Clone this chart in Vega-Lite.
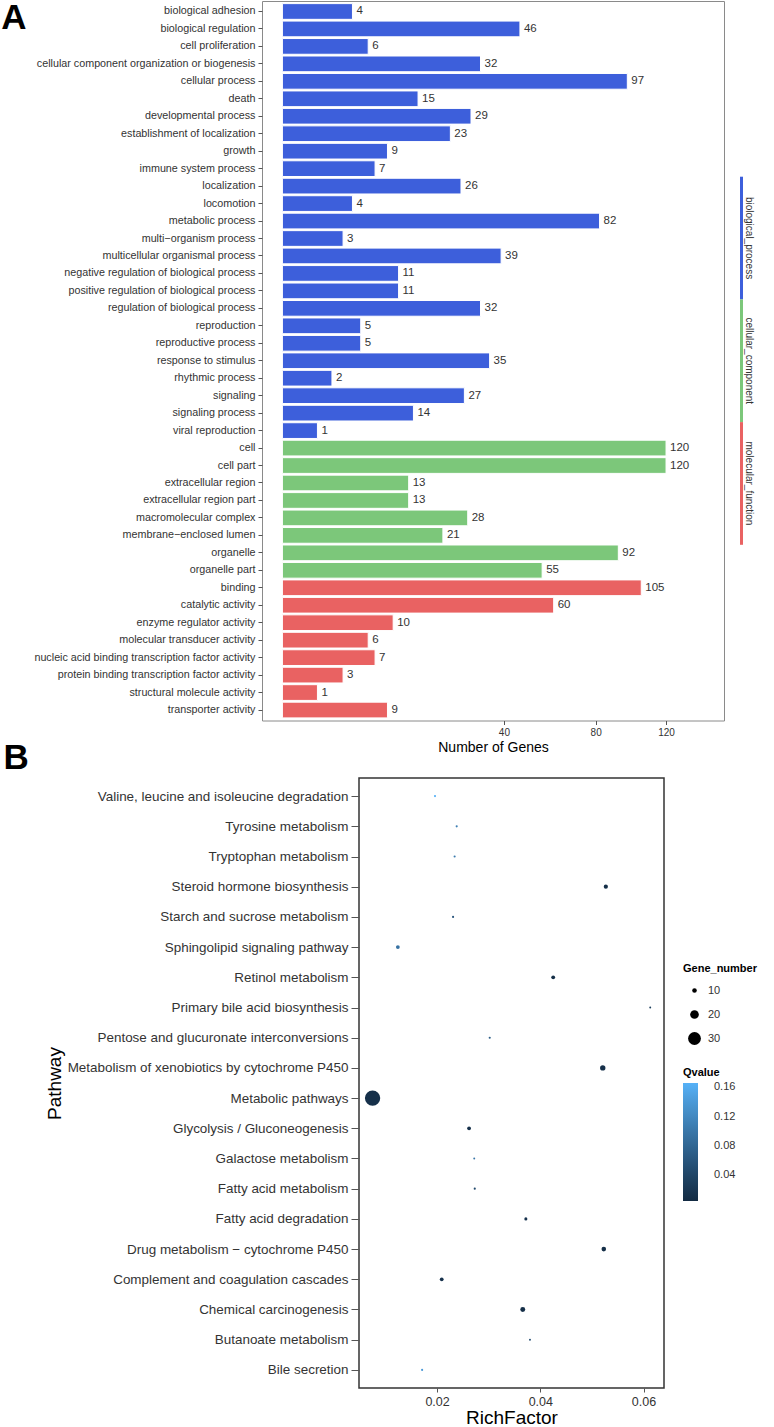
{
  "$schema": "https://vega.github.io/schema/vega-lite/v6.json",
  "padding": {"left": 0, "top": 0, "right": 0, "bottom": 0},
  "background": "white",
  "config": {
    "font": "Liberation Sans",
    "axis": {"labelColor": "#333333", "tickColor": "#555555", "tickSize": 4, "titleFontWeight": "normal", "titleColor": "#000000", "grid": false, "labelLimit": 400, "maxExtent": 400},
    "legend": {"titleFontWeight": "bold", "titleColor": "#000000", "labelColor": "#333333"}
  },
  "spacing": -15,
  "resolve": {"scale": {"color": "independent", "size": "independent"}, "legend": {"color": "independent", "size": "independent"}},
  "vconcat": [
    {
      "spacing": 15,
      "hconcat": [
        {
          "title": {"text": "A", "orient": "left", "anchor": "end", "angle": 0, "align": "right", "baseline": "top", "fontSize": 35, "fontWeight": "bold", "offset": -18, "dy": 0},
          "width": 462,
          "height": 719.5,
          "view": {"stroke": "#8a8a8a", "strokeWidth": 1},
          "data": {"values": [
            {"term": "biological adhesion", "count": 4, "group": "biological_process"},
            {"term": "biological regulation", "count": 46, "group": "biological_process"},
            {"term": "cell proliferation", "count": 6, "group": "biological_process"},
            {"term": "cellular component organization or biogenesis", "count": 32, "group": "biological_process"},
            {"term": "cellular process", "count": 97, "group": "biological_process"},
            {"term": "death", "count": 15, "group": "biological_process"},
            {"term": "developmental process", "count": 29, "group": "biological_process"},
            {"term": "establishment of localization", "count": 23, "group": "biological_process"},
            {"term": "growth", "count": 9, "group": "biological_process"},
            {"term": "immune system process", "count": 7, "group": "biological_process"},
            {"term": "localization", "count": 26, "group": "biological_process"},
            {"term": "locomotion", "count": 4, "group": "biological_process"},
            {"term": "metabolic process", "count": 82, "group": "biological_process"},
            {"term": "multi−organism process", "count": 3, "group": "biological_process"},
            {"term": "multicellular organismal process", "count": 39, "group": "biological_process"},
            {"term": "negative regulation of biological process", "count": 11, "group": "biological_process"},
            {"term": "positive regulation of biological process", "count": 11, "group": "biological_process"},
            {"term": "regulation of biological process", "count": 32, "group": "biological_process"},
            {"term": "reproduction", "count": 5, "group": "biological_process"},
            {"term": "reproductive process", "count": 5, "group": "biological_process"},
            {"term": "response to stimulus", "count": 35, "group": "biological_process"},
            {"term": "rhythmic process", "count": 2, "group": "biological_process"},
            {"term": "signaling", "count": 27, "group": "biological_process"},
            {"term": "signaling process", "count": 14, "group": "biological_process"},
            {"term": "viral reproduction", "count": 1, "group": "biological_process"},
            {"term": "cell", "count": 120, "group": "cellular_component"},
            {"term": "cell part", "count": 120, "group": "cellular_component"},
            {"term": "extracellular region", "count": 13, "group": "cellular_component"},
            {"term": "extracellular region part", "count": 13, "group": "cellular_component"},
            {"term": "macromolecular complex", "count": 28, "group": "cellular_component"},
            {"term": "membrane−enclosed lumen", "count": 21, "group": "cellular_component"},
            {"term": "organelle", "count": 92, "group": "cellular_component"},
            {"term": "organelle part", "count": 55, "group": "cellular_component"},
            {"term": "binding", "count": 105, "group": "molecular_function"},
            {"term": "catalytic activity", "count": 60, "group": "molecular_function"},
            {"term": "enzyme regulator activity", "count": 10, "group": "molecular_function"},
            {"term": "molecular transducer activity", "count": 6, "group": "molecular_function"},
            {"term": "nucleic acid binding transcription factor activity", "count": 7, "group": "molecular_function"},
            {"term": "protein binding transcription factor activity", "count": 3, "group": "molecular_function"},
            {"term": "structural molecule activity", "count": 1, "group": "molecular_function"},
            {"term": "transporter activity", "count": 9, "group": "molecular_function"}
          ]},
          "encoding": {
            "y": {"field": "term", "type": "nominal", "sort": null,
                  "scale": {"paddingInner": 0.1, "paddingOuter": 0.15},
                  "axis": {"title": null, "labelFontSize": 10.75, "domain": false, "labelPadding": 3}},
            "x": {"field": "count", "type": "quantitative",
                  "scale": {"type": "sqrt", "domain": [-0.34, 159], "nice": false, "zero": false},
                  "axis": {"values": [40, 80, 120], "title": "Number of Genes", "titleFontSize": 14, "labelFontSize": 10, "domain": false, "titlePadding": 3, "labelPadding": 3}}
          },
          "layer": [
            {"mark": {"type": "bar", "stroke": "white", "strokeWidth": 1},
             "encoding": {"color": {"field": "group", "type": "nominal",
               "scale": {"domain": ["biological_process", "cellular_component", "molecular_function"], "range": ["#3D5FDB", "#7CC77A", "#E96262"]},
               "legend": null}}},
            {"mark": {"type": "text", "align": "left", "baseline": "middle", "dx": 4, "fontSize": 11.5, "color": "#333333"},
             "encoding": {"text": {"field": "count", "type": "quantitative"}}}
          ]
        },
        {
          "width": 3,
          "height": 719.5,
          "view": {"stroke": null},
          "data": {"values": [
            {"group": "biological_process"},
            {"group": "cellular_component"},
            {"group": "molecular_function"}
          ]},
          "mark": {"type": "bar"},
          "encoding": {
            "y": {"field": "group", "type": "nominal", "sort": null,
                  "scale": {"domain": [" ", "biological_process", "cellular_component", "molecular_function", "  "], "paddingInner": 0, "paddingOuter": 0.432},
                  "axis": {"orient": "right", "values": ["biological_process", "cellular_component", "molecular_function"], "title": null, "ticks": false, "domain": false, "labelAngle": 90, "labelAlign": "center", "labelBaseline": "bottom", "labelPadding": 0, "labelFontSize": 10, "labelColor": "#333333"}},
            "color": {"field": "group", "type": "nominal",
               "scale": {"domain": ["biological_process", "cellular_component", "molecular_function"], "range": ["#3D5FDB", "#7CC77A", "#E96262"]},
               "legend": null}
          }
        }
      ]
    },
    {
      "spacing": 0,
      "bounds": "flush",
      "resolve": {"scale": {"color": "independent", "size": "independent"}, "legend": {"color": "independent", "size": "independent"}},
      "hconcat": [
        {
          "width": 97,
          "height": 10,
          "view": {"stroke": null},
          "data": {"values": [{"k": 0}]},
          "mark": {"type": "point", "opacity": 0},
          "encoding": {}
        },
        {
          "title": {"text": "B", "orient": "left", "anchor": "end", "angle": 0, "align": "right", "baseline": "top", "fontSize": 35, "fontWeight": "bold", "offset": -9, "dy": -37},
          "width": 305,
          "height": 610,
          "view": {"stroke": "#333333", "strokeWidth": 1.5},
          "data": {"values": [
            {"pathway": "Valine, leucine and isoleucine degradation", "RichFactor": 0.0196, "Gene_number": 3, "Qvalue": 0.165},
            {"pathway": "Tyrosine metabolism", "RichFactor": 0.0238, "Gene_number": 3, "Qvalue": 0.11},
            {"pathway": "Tryptophan metabolism", "RichFactor": 0.0234, "Gene_number": 3, "Qvalue": 0.105},
            {"pathway": "Steroid hormone biosynthesis", "RichFactor": 0.0527, "Gene_number": 9, "Qvalue": 0.01},
            {"pathway": "Starch and sucrose metabolism", "RichFactor": 0.0231, "Gene_number": 3, "Qvalue": 0.06},
            {"pathway": "Sphingolipid signaling pathway", "RichFactor": 0.0124, "Gene_number": 8, "Qvalue": 0.095},
            {"pathway": "Retinol metabolism", "RichFactor": 0.0425, "Gene_number": 8, "Qvalue": 0.01},
            {"pathway": "Primary bile acid biosynthesis", "RichFactor": 0.0613, "Gene_number": 2, "Qvalue": 0.03},
            {"pathway": "Pentose and glucuronate interconversions", "RichFactor": 0.0302, "Gene_number": 3, "Qvalue": 0.07},
            {"pathway": "Metabolism of xenobiotics by cytochrome P450", "RichFactor": 0.0521, "Gene_number": 12, "Qvalue": 0.012},
            {"pathway": "Metabolic pathways", "RichFactor": 0.0075, "Gene_number": 36, "Qvalue": 0.012},
            {"pathway": "Glycolysis / Gluconeogenesis", "RichFactor": 0.0262, "Gene_number": 8, "Qvalue": 0.012},
            {"pathway": "Galactose metabolism", "RichFactor": 0.0272, "Gene_number": 2, "Qvalue": 0.1},
            {"pathway": "Fatty acid metabolism", "RichFactor": 0.0273, "Gene_number": 3, "Qvalue": 0.045},
            {"pathway": "Fatty acid degradation", "RichFactor": 0.0372, "Gene_number": 6, "Qvalue": 0.015},
            {"pathway": "Drug metabolism − cytochrome P450", "RichFactor": 0.0523, "Gene_number": 10, "Qvalue": 0.01},
            {"pathway": "Complement and coagulation cascades", "RichFactor": 0.0209, "Gene_number": 8, "Qvalue": 0.015},
            {"pathway": "Chemical carcinogenesis", "RichFactor": 0.0366, "Gene_number": 11, "Qvalue": 0.01},
            {"pathway": "Butanoate metabolism", "RichFactor": 0.038, "Gene_number": 2, "Qvalue": 0.05},
            {"pathway": "Bile secretion", "RichFactor": 0.0171, "Gene_number": 3, "Qvalue": 0.14}
          ]},
          "mark": {"type": "circle", "opacity": 1},
          "encoding": {
            "y": {"field": "pathway", "type": "nominal", "sort": null,
                  "scale": {"type": "point", "padding": 0.6},
                  "axis": {"title": "Pathway", "titleFontSize": 19, "labelFontSize": 13.45, "domain": false, "labelPadding": 3, "tickSize": 8, "titlePadding": 3}},
            "x": {"field": "RichFactor", "type": "quantitative",
                  "scale": {"domain": [0.00487, 0.06397], "nice": false, "zero": false},
                  "axis": {"values": [0.02, 0.04, 0.06], "format": ".2f", "title": "RichFactor", "titleFontSize": 19, "labelFontSize": 12.5, "domain": false, "labelPadding": 3, "titlePadding": 1}},
            "size": {"field": "Gene_number", "type": "quantitative",
                     "scale": {"type": "pow", "exponent": 2, "domain": [0, 36], "range": [3, 235]},
                     "legend": {"title": "Gene_number", "values": [10, 20, 30], "orient": "none", "legendX": 324, "legendY": 185, "titleFontSize": 11, "titlePadding": 11, "labelFontSize": 11, "labelOffset": 7, "symbolOffset": 5, "symbolFillColor": "#000000", "symbolStrokeWidth": 0, "symbolType": "circle", "rowPadding": 12}},
            "color": {"field": "Qvalue", "type": "quantitative",
                      "scale": {"domain": [0.005, 0.166], "range": ["#132B43", "#56B1F7"], "interpolate": "lab"},
                      "legend": {"title": "Qvalue", "values": [0.04, 0.08, 0.12, 0.16], "format": ".2f", "orient": "none", "legendX": 324, "legendY": 289, "gradientLength": 118, "gradientThickness": 15, "titleFontSize": 11, "labelFontSize": 11, "labelOffset": 16, "gradientStrokeWidth": 0}}
          }
        }
      ]
    }
  ]
}
